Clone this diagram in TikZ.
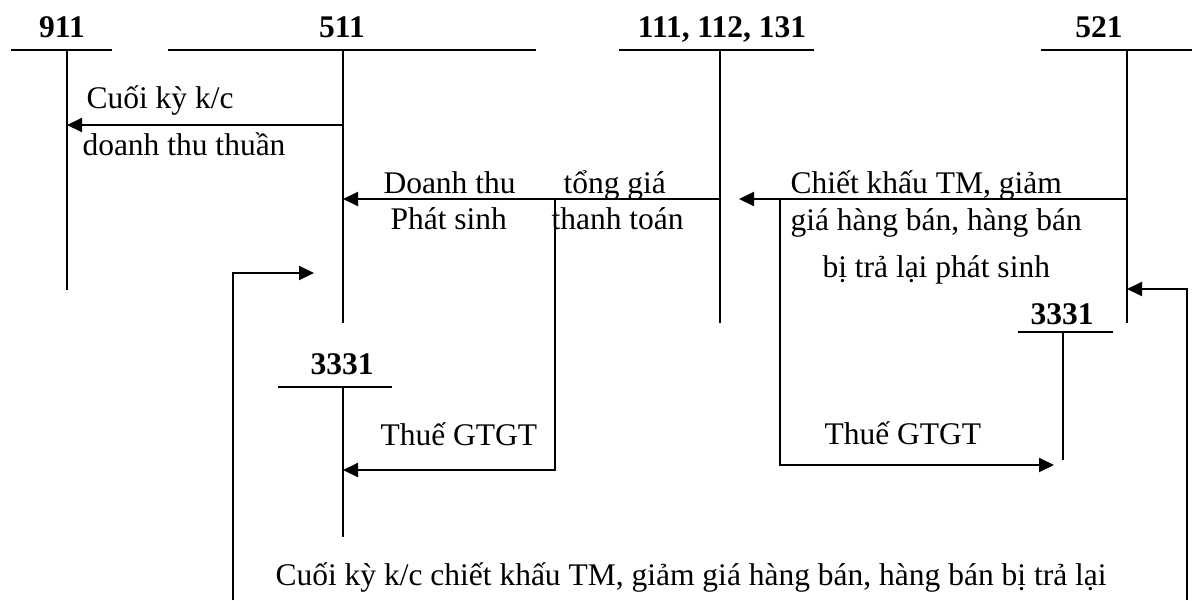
\documentclass[tikz,border=0pt]{standalone}
\usepackage{fontspec}
\setmainfont{Liberation Serif}
\usetikzlibrary{arrows.meta}

\begin{document}
\begin{tikzpicture}[
x=0.4pt, y=-0.4pt,
font=\fontsize{12.6}{15}\selectfont,
acct/.style={font=\fontsize{12.6}{15}\selectfont\bfseries, inner sep=0pt, anchor=base},
note/.style={inner sep=0pt, anchor=base west},
tline/.style={line width=0.8pt},
arrow/.style={line width=0.8pt, -{Triangle[length=6pt, width=5.6pt]}}
]
\useasboundingbox (0,0) rectangle (1192,600);

% Account names
\node[acct] (n911) at (62,37) {911};
\node[acct] (n511) at (342,37) {511};
\node[acct] (n111) at (722,37) {111, 112, 131};
\node[acct] (n521) at (1099,37) {521};
\node[acct] (n3331a) at (342,374) {3331};
\node[acct] (n3331b) at (1062,324) {3331};

% T-account tops and bottoms
\coordinate (t911) at (67,50);    \coordinate (b911) at (67,290);
\coordinate (t511) at (343,50);   \coordinate (b511) at (343,323);
\coordinate (t111) at (720,50);   \coordinate (b111) at (720,323);
\coordinate (t521) at (1127,50);  \coordinate (b521) at (1127,323);
\coordinate (t3331a) at (343,387); \coordinate (b3331a) at (343,537);
\coordinate (t3331b) at (1063,332); \coordinate (b3331b) at (1063,460);

% T-accounts
\draw[tline] (11,50) -- (112,50);
\draw[tline] (168,50) -- (536,50);
\draw[tline] (619,50) -- (814,50);
\draw[tline] (1041,50) -- (1192,50);
\draw[tline] (278,387) -- (392,387);
\draw[tline] (1018,332) -- (1113,332);
\draw[tline] (t911) -- (b911);
\draw[tline] (t511) -- (b511);
\draw[tline] (t111) -- (b111);
\draw[tline] (t521) -- (b521);
\draw[tline] (t3331a) -- (b3331a);
\draw[tline] (t3331b) -- (b3331b);

% Arrow end points
\coordinate (kc511) at (343,125);   \coordinate (kc911) at (67,125);
\coordinate (dt111) at (720,199);   \coordinate (dt511) at (343,199);
\coordinate (vat1) at (555,199);    \coordinate (vat1b) at (555,470);
\coordinate (vat3331) at (343,470);
\coordinate (ck521) at (1127,199);  \coordinate (ck111) at (739,199);
\coordinate (vat2) at (780,199);    \coordinate (vat2b) at (780,465);
\coordinate (vat3331b) at (1054,465);
\coordinate (back1) at (233,600);   \coordinate (back1t) at (233,273);
\coordinate (back511) at (314,273);
\coordinate (back2) at (1187,600);  \coordinate (back2t) at (1187,289);
\coordinate (back521) at (1127,289);

% Connections
\draw[arrow] (kc511) -- (kc911);
\draw[arrow] (dt111) -- (dt511);
\draw[arrow] (vat1) -- (vat1b) -- (vat3331);
\draw[arrow] (ck521) -- (ck111);
\draw[arrow] (vat2) -- (vat2b) -- (vat3331b);
\draw[arrow] (back1) -- (back1t) -- (back511);
\draw[arrow] (back2) -- (back2t) -- (back521);

% Labels
\node[note] (l1) at (86,108) {Cuối kỳ k/c};
\node[note] (l2) at (82,155) {doanh thu thuần};
\node[note] (l3) at (383,193) {Doanh thu};
\node[note] (l4) at (390,229) {Phát sinh};
\node[note] (l5) at (563,193) {tổng giá};
\node[note] (l6) at (551,229) {thanh toán};
\node[note] (l7) at (790,193) {Chiết khấu TM, giảm};
\node[note] (l8) at (790,230) {giá hàng bán, hàng bán};
\node[note] (l9) at (822,277) {bị trả lại phát sinh};
\node[note] (l10) at (380,445) {Thuế GTGT};
\node[note] (l11) at (824,444) {Thuế GTGT};
\node[note] (l12) at (275,585) {Cuối kỳ k/c chiết khấu TM, giảm giá hàng bán, hàng bán bị trả lại};

\end{tikzpicture}
\end{document}
